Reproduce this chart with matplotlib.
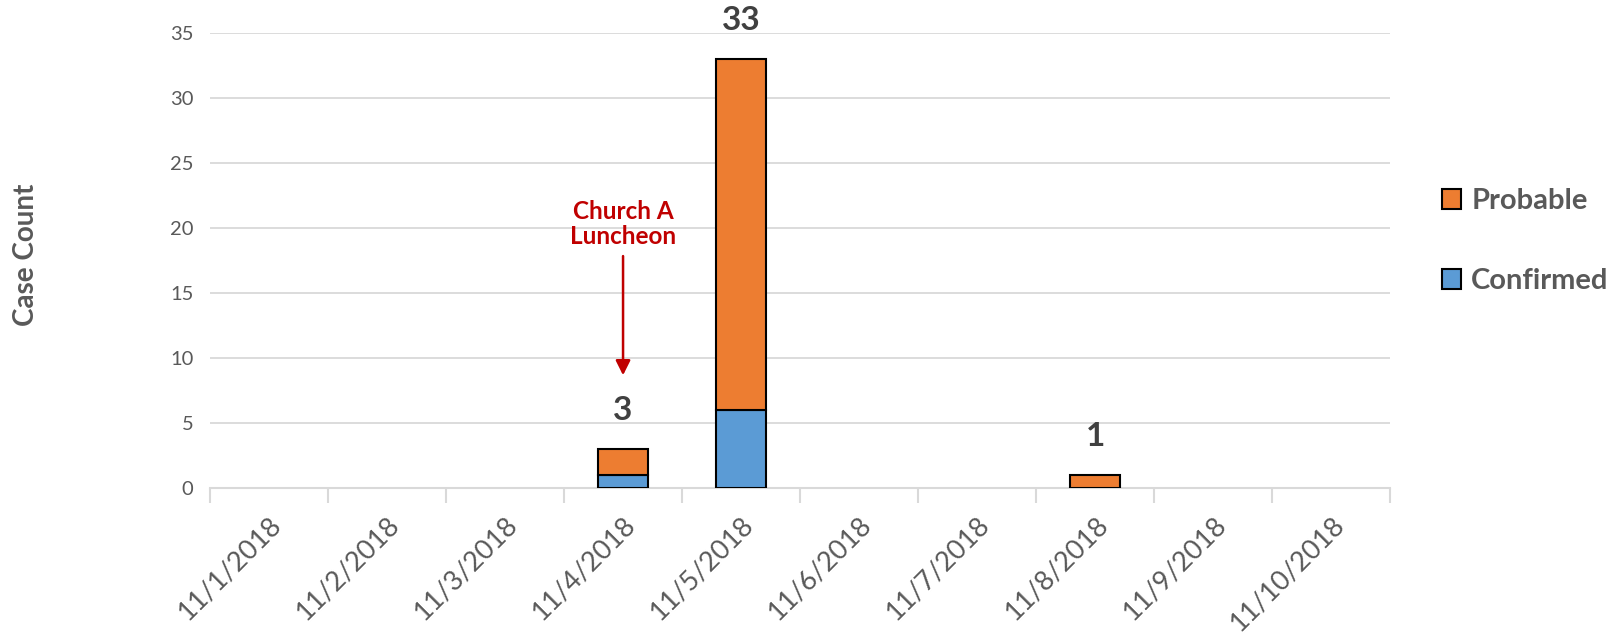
import numpy as np
import matplotlib
matplotlib.use("Agg")
import matplotlib.pyplot as plt

plt.rcParams['font.family'] = ['Lato', 'DejaVu Sans']

# Data
dates = ["11/1/2018", "11/2/2018", "11/3/2018", "11/4/2018", "11/5/2018",
         "11/6/2018", "11/7/2018", "11/8/2018", "11/9/2018", "11/10/2018"]
confirmed = [0, 0, 0, 1, 6, 0, 0, 0, 0, 0]
probable = [0, 0, 0, 2, 27, 0, 0, 1, 0, 0]
y_ticks = [0, 5, 10, 15, 20, 25, 30, 35]

orange = "#ED7D31"
blue = "#5B9BD5"
text_gray = "#595959"
grid_gray = "#D9D9D9"

fig = plt.figure(figsize=(16.09, 6.36), dpi=100)
ax = fig.add_axes([0.1305, 0.232, 0.7335, 0.716])

x = np.arange(len(dates))
conf = np.array(confirmed)
prob = np.array(probable)
total = conf + prob

# only draw non-empty segments so zero bars don't show outlines
for i in x:
    if conf[i] > 0:
        ax.bar(i, conf[i], width=0.42, color=blue, edgecolor="black", linewidth=1.5, zorder=3)
    if prob[i] > 0:
        ax.bar(i, prob[i], bottom=conf[i], width=0.42, color=orange, edgecolor="black", linewidth=1.5, zorder=3)

# totals above bars
for i in x:
    if total[i] > 0:
        ax.annotate(str(total[i]), (i, total[i]), xytext=(0, 28), textcoords="offset points",
                    ha="center", va="center", fontsize=24, fontweight="bold", color="#404040")

# event annotation
ax.annotate("Church A\nLuncheon", xy=(3, 8.7), xytext=(3, 18.5),
            ha="center", va="bottom", fontsize=17.5, fontweight="bold", color="#C00000",
            linespacing=1.1,
            arrowprops=dict(arrowstyle="-|>", color="#C00000", lw=1.8, mutation_scale=22,
                            shrinkA=4, shrinkB=0))

ax.set_xlim(-0.5, len(dates) - 0.5)
ax.set_ylim(0, 35)
ax.set_yticks(y_ticks)
ax.set_xticks(x)
ax.set_xticklabels(dates, rotation=45, ha="right", rotation_mode="anchor", fontsize=19.5, color=text_gray)
ax.set_xticks(np.arange(-0.5, len(dates)), minor=True)
ax.tick_params(axis="x", which="major", length=0, pad=17)
ax.tick_params(axis="x", which="minor", length=11, color=grid_gray, width=1.5)
ax.tick_params(axis="y", length=0, labelsize=14.5, labelcolor=text_gray, pad=12)
ax.grid(axis="y", color=grid_gray, linewidth=1.3, zorder=0)
ax.set_axisbelow(True)
for s in ["top", "right", "left"]:
    ax.spines[s].set_visible(False)
ax.spines["bottom"].set_color(grid_gray)
ax.spines["bottom"].set_linewidth(1.5)

fig.text(0.016, 0.6, "Case Count", rotation=90, ha="center", va="center",
         fontsize=20, fontweight="bold", color=text_gray)

# legend
h_prob = plt.Rectangle((0, 0), 1, 1, facecolor=orange, edgecolor="black", linewidth=1.5)
h_conf = plt.Rectangle((0, 0), 1, 1, facecolor=blue, edgecolor="black", linewidth=1.5)
leg = fig.legend([h_prob, h_conf], ["Probable", "Confirmed"], loc="center left",
                 bbox_to_anchor=(0.88, 0.621), frameon=False, handlelength=0.65,
                 handleheight=0.65, handletextpad=0.35, labelspacing=1.85,
                 prop={"size": 21, "weight": "bold"})
for t in leg.get_texts():
    t.set_color(text_gray)

fig.savefig("out.png", dpi=100, facecolor="white")
